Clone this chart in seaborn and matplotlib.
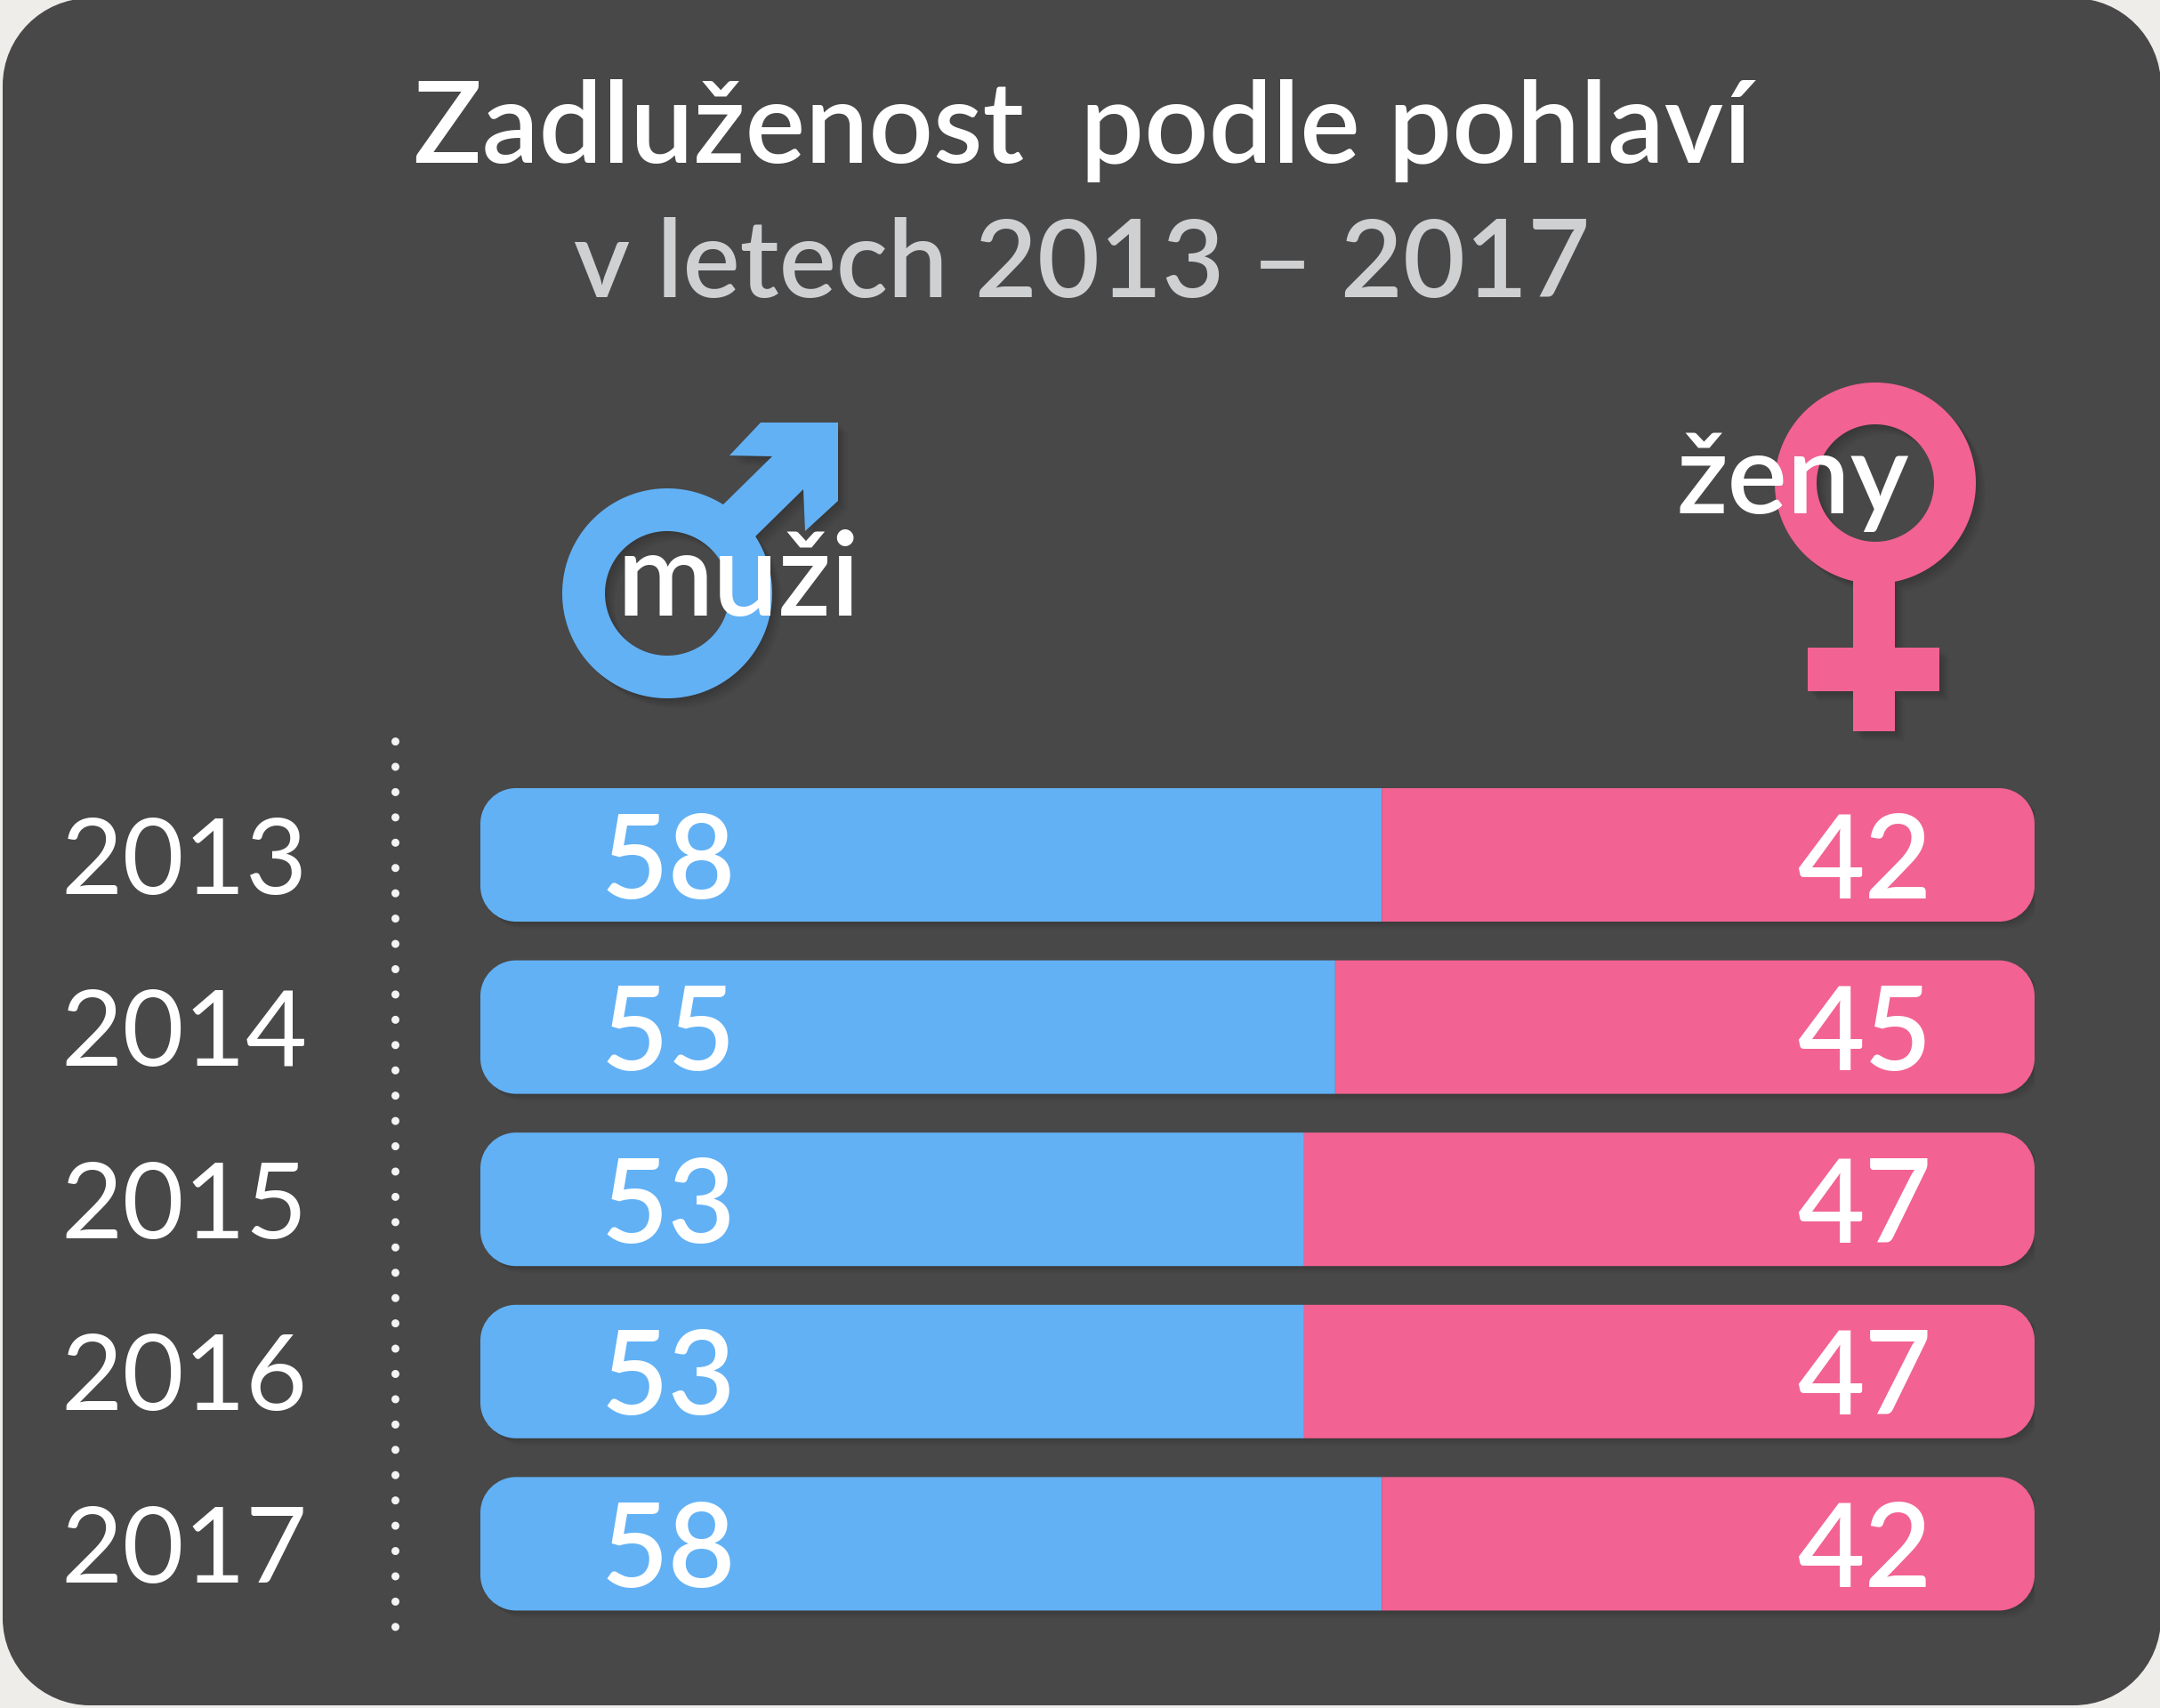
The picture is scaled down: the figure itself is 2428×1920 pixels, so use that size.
import matplotlib
matplotlib.use("Agg")
import matplotlib.pyplot as plt
import matplotlib.patheffects as pe
import numpy as np
import pandas as pd
import seaborn as sns
from matplotlib.patches import PathPatch
from matplotlib.path import Path
from matplotlib.transforms import IdentityTransform

years = ["2013", "2014", "2015", "2016", "2017"]
men = [58, 55, 53, 53, 58]
women = [42, 45, 47, 47, 42]

title_main = "Zadluženost  podle pohlaví"
title_sub = "v letech 2013 – 2017"
label_men = "muži"
label_women = "ženy"

BLUE = "#62b1f5"
PINK = "#f26292"
CARD = "#484848"
PAPER = "#eeede9"

W, H = 2428, 1920
sns.set_theme(style="white")
plt.rcParams["font.family"] = ["Lato", "DejaVu Sans"]

fig = plt.figure(figsize=(W / 100, H / 100), dpi=100, facecolor=PAPER)


def soft_shadow(step=2.2, layers=5, alpha=0.035):
    """Stacked offset copies that read as a soft drop shadow."""
    effects = [
        pe.SimplePatchShadow(offset=(step * i * 0.72, -step * i * 0.72),
                             shadow_rgbFace="black", alpha=alpha)
        for i in range(layers, 0, -1)
    ]
    return effects + [pe.Normal()]


def rounded_path(x0, x1, y0, y1, rx, ry, left=True, right=True):
    """Box outline with circular-looking corners on the chosen ends."""
    k = 0.45
    verts, codes = [], []

    def add(code, *pts):
        verts.extend(pts)
        codes.extend([code] * len(pts))

    add(Path.MOVETO, (x0 + rx, y0) if left else (x0, y0))
    if right:
        add(Path.LINETO, (x1 - rx, y0))
        add(Path.CURVE4, (x1 - rx * k, y0), (x1, y0 + ry * k), (x1, y0 + ry))
        add(Path.LINETO, (x1, y1 - ry))
        add(Path.CURVE4, (x1, y1 - ry * k), (x1 - rx * k, y1), (x1 - rx, y1))
    else:
        add(Path.LINETO, (x1, y0), (x1, y1))
    if left:
        add(Path.LINETO, (x0 + rx, y1))
        add(Path.CURVE4, (x0 + rx * k, y1), (x0, y1 - ry * k), (x0, y1 - ry))
        add(Path.LINETO, (x0, y0 + ry))
        add(Path.CURVE4, (x0, y0 + ry * k), (x0 + rx * k, y0), (x0 + rx, y0))
    else:
        add(Path.LINETO, (x0, y1), (x0, y0))
    return Path(verts, codes)


# Full-figure layer in pixel units: card, title, gender symbols
bg = fig.add_axes([0, 0, 1, 1])
bg.set_xlim(0, W)
bg.set_ylim(H, 0)
bg.axis("off")

bg.add_patch(PathPatch(rounded_path(3, W + 1, -2, 1917, 98, 98),
                       fc=CARD, ec="none", zorder=0))

bg.text(1217, 183, title_main, color="white", fontsize=91.5, fontweight=600,
        ha="center", va="baseline", zorder=5)
bg.text(1216, 334, title_sub, color="#cfd0d2", fontsize=87, fontweight=600,
        ha="center", va="baseline", zorder=5)


def signed_area(pts):
    x, y = np.asarray(pts).T
    return 0.5 * np.sum(x * np.roll(y, -1) - np.roll(x, -1) * y)


def circle_points(center, radius, n=240):
    t = np.linspace(0, 2 * np.pi, n, endpoint=False)
    return np.column_stack([center[0] + radius * np.cos(t),
                            center[1] + radius * np.sin(t)])


def gender_symbol(center, r_out, r_in, outline, color):
    """Ring plus an attached outline, merged so it casts a single shadow."""
    outer = circle_points(center, r_out)
    inner = circle_points(center, r_in)[::-1]
    tail = np.asarray(outline, dtype=float)
    if signed_area(tail) * signed_area(outer) < 0:
        tail = tail[::-1]
    parts = [Path(np.vstack([p, p[:1]]), closed=True) for p in (outer, inner, tail)]
    bg.add_patch(PathPatch(Path.make_compound_path(*parts), fc=color, ec="none",
                           zorder=3, path_effects=soft_shadow()))


gender_symbol((750, 667), 118, 70,
              [(820, 512), (855, 475), (942, 475), (942, 563), (905, 597),
               (903, 550), (845, 607), (808, 572), (868, 513)], BLUE)
gender_symbol((2108, 543), 113, 66,
              [(2083, 640), (2083, 728), (2032, 728), (2032, 777), (2083, 777),
               (2083, 822), (2130, 822), (2130, 777), (2180, 777), (2180, 728),
               (2130, 728), (2130, 640)], PINK)

bg.text(830, 692, label_men, color="white", fontsize=94, fontweight=600,
        ha="center", va="baseline", zorder=5)
bg.text(2015, 577, label_women, color="white", fontsize=91, fontweight=600,
        ha="center", va="baseline", zorder=5)

# Dotted separator between the year labels and the bars
bg.plot([444, 444], [833, 1835], color="#f4f4f4", lw=6.5,
        linestyle=(0, (0.01, 3.14)), dash_capstyle="round", zorder=4)

# Stacked horizontal bars, 0-100 across the plot width
ax_left, ax_right = 540, 2287
row_step = 193.6
ax_top = 961 - row_step / 2
ax_bottom = ax_top + row_step * len(years)
ax = fig.add_axes([ax_left / W, 1 - ax_bottom / H,
                   (ax_right - ax_left) / W, (ax_bottom - ax_top) / H])
ax.patch.set_alpha(0)

df = pd.DataFrame({"year": years, "men": men, "women": women})
sns.barplot(data=df, x="men", y="year", orient="h", color=BLUE, width=0.775,
            saturation=1, ax=ax, linewidth=0)
n_men = len(ax.patches)
sns.barplot(data=df, x="women", y="year", orient="h", color=PINK, width=0.775,
            saturation=1, left=df["men"], ax=ax, linewidth=0)

ax.set_xlim(0, 100)
ax.set_ylim(len(years) - 0.5, -0.5)
ax.set_xlabel("")
ax.set_ylabel("")
ax.set_xticks([])
sns.despine(ax=ax, left=True, bottom=True)
ax.tick_params(axis="y", length=0, pad=140, colors="white")
for lab in ax.get_yticklabels():
    lab.set_fontsize(86)
    lab.set_fontweight(400)
    lab.set_color("white")
    lab.set_verticalalignment("center_baseline")

rx = 40 / ((ax_right - ax_left) / 100)
ry = 40 / row_step


def round_bar(bar, left, right):
    """Give a bar rounded corners on the chosen ends, keeping its extent."""
    x0, x1 = bar.get_x(), bar.get_x() + bar.get_width()
    y0, y1 = bar.get_y(), bar.get_y() + bar.get_height()
    path = rounded_path(x0, x1, y0, y1, rx, ry, left, right)
    bar.get_path = lambda: path
    bar.get_patch_transform = IdentityTransform


men_bars = ax.patches[:n_men]
women_bars = ax.patches[n_men:]
for bar in men_bars:
    round_bar(bar, True, False)
    bar.set_zorder(2)
    bar.set_path_effects(soft_shadow(step=2, layers=4))
for bar in women_bars:
    round_bar(bar, False, True)
    bar.set_zorder(3)
    bar.set_path_effects(soft_shadow(step=2, layers=4))

# Value labels sit at a fixed distance inside each end of the row
for i, (m, w) in enumerate(zip(men, women)):
    ax.text(7.75, i, str(m), color="white", fontsize=94, fontweight=600,
            ha="left", va="center_baseline", zorder=6)
    ax.text(84.7, i, str(w), color="white", fontsize=94, fontweight=600,
            ha="left", va="center_baseline", zorder=6)

fig.savefig("out.png", dpi=100, facecolor=PAPER)
